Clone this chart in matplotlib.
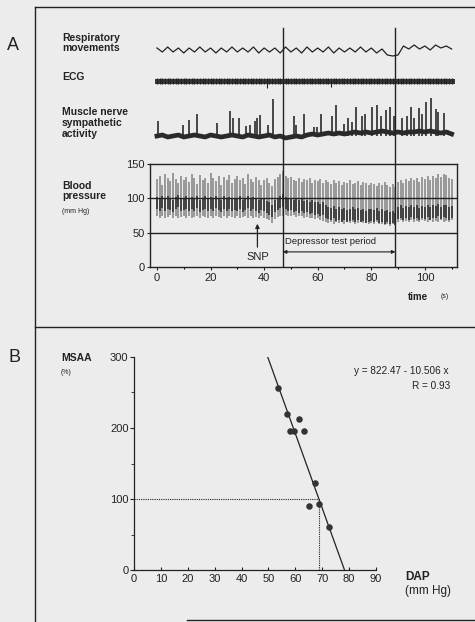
import numpy as np
import matplotlib
matplotlib.use("Agg")
import matplotlib.pyplot as plt
from matplotlib.lines import Line2D

plt.rcParams['font.family'] = ['Liberation Sans', 'DejaVu Sans']

# ---- panel A data ----
# respiratory trace, extrema every 2 s (arbitrary units)
resp_t = np.arange(0, 111, 2)
resp = [2, -2, 3, -2, 2, -3, 2, -2, 3, -2, 2, -3,
        2, -2, 3, -2, 2, -2, 3, -3, 2, -2, 2, -3,
        3, -2, 2, -3, 3, -2, 2, -2, 3, -3, 2, -2,
        2, -2, 3, -2, 2, -3, 1, -5, -6, -5, 4, 1,
        5, 1, 4, 0, 5, 2, 4, 1]

# beat-by-beat blood pressure (mm Hg), one beat per second
beat_t = np.arange(0, 111, 1)
bp_sys = [128, 132, 120, 135, 130, 125, 137, 128, 122, 133,
          127, 131, 124, 136, 129, 121, 134, 127, 130, 123,
          137, 129, 125, 132, 120, 131, 127, 134, 122, 128,
          133, 126, 130, 121, 135, 128, 124, 131, 127, 120,
          126, 130, 123, 118, 128, 131, 136, 140, 133, 129,
          131, 127, 125, 130, 124, 128, 126, 129, 123, 127,
          125, 128, 122, 126, 124, 121, 127, 123, 125, 120,
          124, 122, 126, 121, 123, 125, 120, 124, 122, 119,
          123, 121, 118, 122, 120, 124, 119, 117, 121, 116,
          124, 127, 122, 128, 125, 130, 126, 129, 124, 131,
          128, 132, 127, 133, 130, 135, 131, 136, 134, 130, 128]
bp_dia = [74, 72, 75, 71, 73, 76, 72, 74, 71, 73,
          75, 72, 74, 71, 73, 75, 72, 74, 73, 71,
          74, 72, 75, 73, 71, 74, 72, 75, 73, 72,
          74, 71, 73, 75, 72, 74, 71, 73, 72, 74,
          72, 70, 68, 64, 70, 73, 75, 74, 76, 75,
          74, 76, 73, 75, 74, 72, 73, 71, 72, 70,
          71, 69, 67, 66, 64, 65, 63, 66, 64, 65,
          63, 66, 64, 65, 63, 64, 66, 64, 65, 63,
          64, 62, 65, 63, 62, 61, 63, 60, 62, 61,
          66, 68, 65, 67, 66, 68, 65, 67, 66, 68,
          67, 65, 68, 66, 67, 65, 68, 66, 67, 65, 68]
bp_mean = [96, 94, 98, 93, 97, 95, 92, 96, 99, 94,
           95, 97, 93, 96, 94, 98, 92, 95, 97, 93,
           96, 94, 98, 95, 92, 97, 94, 96, 93, 95,
           94, 97, 92, 95, 98, 93, 96, 94, 91, 95,
           93, 90, 88, 85, 92, 95, 98, 100, 96, 94,
           95, 92, 94, 91, 93, 90, 92, 89, 91, 88,
           89, 86, 88, 84, 82, 80, 83, 79, 81, 78,
           80, 77, 79, 81, 78, 80, 77, 79, 76, 78,
           79, 77, 80, 76, 78, 75, 77, 74, 76, 73,
           82, 84, 80, 83, 81, 85, 82, 84, 80, 83,
           82, 85, 81, 84, 83, 86, 82, 85, 84, 81, 83]

# ECG: deeper deflections
ecg_dip_t = [41, 65]
ecg_dip = [7, 6]

# MSNA baseline every 2 s and burst times / amplitudes
msna_t = np.arange(0, 111, 2)
msna_base = [0, 1, -1, 0, 1, -1, 0, 1, 0, -1, 1, 0,
             -1, 0, 1, 0, -1, 1, 0, -1, 0, 1, -1, 0,
             -2, -1, 0, -1, 1, 2, 1, 2, 3, 2, 3, 2,
             3, 4, 3, 4, 3, 4, 5, 4, 3, 4, 3, 4,
             4, 5, 4, 5, 4, 3, 4, 2]
burst_t = [0.5, 9.9, 12.0, 14.9, 22.3, 27.3, 28.2, 30.7, 33.3, 34.8,
           36.7, 37.5, 38.3, 41.6, 43.3, 51.0, 52.0, 54.7, 58.5, 59.8,
           61.4, 65.4, 66.9, 69.7, 71.2, 72.9, 74.2, 76.7, 77.5, 80.1,
           82.0, 83.5, 85.4, 87.0, 88.5, 91.6, 93.3, 95.0, 96.0, 97.9,
           99.1, 100.4, 102.2, 104.1, 105.0, 107.3]
burst_h = [15, 11, 16, 22, 13, 25, 18, 18, 10, 11,
           15, 18, 21, 11, 37, 20, 11, 22, 9, 9,
           22, 20, 31, 12, 18, 14, 29, 20, 22, 29,
           31, 20, 26, 29, 20, 18, 20, 29, 18, 28,
           22, 34, 38, 27, 24, 23]

marker_t = [47, 89]          # depressor test period limits (s)
snp_t = 37.5                 # SNP injection

# ---- panel B data ----
dap = [53.5, 56.8, 61.4, 58.0, 59.5, 63.2, 67.3, 65.2, 68.8, 72.6]
msaa = [257, 220, 212, 196, 196, 196, 122, 90, 93, 60]
fit_a, fit_b = 822.47, -10.506

W, H = 475, 622
ink = '#222222'
paper = '#ececec'


def box(l, t, r, b):
    return [l / W, 1 - b / H, (r - l) / W, (b - t) / H]


fig = plt.figure(figsize=(W / 100, H / 100), dpi=100, facecolor=paper)

# frame lines of the figure plate
for xs, ys in [((35, 35), (7, 622)), ((35, 475), (7, 7)),
               ((35, 475), (327, 327)), ((187, 475), (620, 620))]:
    fig.add_artist(Line2D([x / W for x in xs], [1 - y / H for y in ys],
                          transform=fig.transFigure, color=ink, lw=1.0))

XLIM = (-2.6, 112)

# ---- traces above blood pressure ----
ax_tr = fig.add_axes(box(150, 25, 457, 164))
ax_tr.set_xlim(*XLIM)
ax_tr.set_ylim(0, 139)
ax_tr.axis('off')
RESP_OFF, ECG_OFF, MSNA_OFF = 114, 83, 28

ax_tr.plot(resp_t, RESP_OFF + np.array(resp), color=ink, lw=0.9)

ax_tr.plot([0, 110], [ECG_OFF, ECG_OFF], color='#3a3a3a', lw=3.6)
ax_tr.vlines(beat_t, ECG_OFF - 3, ECG_OFF + 3, color='#222222', lw=1.0)
ax_tr.vlines(ecg_dip_t, ECG_OFF - np.array(ecg_dip), ECG_OFF, color=ink, lw=0.8)

ax_tr.vlines(burst_t, MSNA_OFF, MSNA_OFF + np.array(burst_h), color='#3a3a3a', lw=1.3)
ax_tr.plot(msna_t, MSNA_OFF + np.array(msna_base), color='#2a2a2a', lw=3.4)

for t in marker_t:
    ax_tr.plot([t, t], [0, 136], color=ink, lw=1.0)

lab = dict(fontsize=7.5, fontweight='bold', color=ink, va='center', ha='left')
fig.text(62 / W, 1 - 43 / H, 'Respiratory\nmovements', linespacing=1.1, **lab)
fig.text(62 / W, 1 - 77 / H, 'ECG', **lab)
fig.text(62 / W, 1 - 123 / H, 'Muscle nerve\nsympathetic\nactivity', linespacing=1.1, **lab)
fig.text(62 / W, 1 - 191 / H, 'Blood\npressure', linespacing=1.1, **lab)
fig.text(62 / W, 1 - 212 / H, '(mm Hg)', fontsize=5, color=ink, va='center')
fig.text(13 / W, 1 - 45 / H, 'A', fontsize=13, color=ink, va='center', ha='center')
fig.text(15 / W, 1 - 358 / H, 'B', fontsize=13, color=ink, va='center', ha='center')

# ---- blood pressure ----
ax_bp = fig.add_axes(box(150, 164, 457, 267))
ax_bp.set_facecolor('none')
ax_bp.set_xlim(*XLIM)
ax_bp.set_ylim(0, 150)
ax_bp.vlines(beat_t, bp_dia, bp_sys, color='#8a8a8a', lw=1.2)
ax_bp.vlines(beat_t, np.array(bp_mean) - 12, np.array(bp_mean) + 6, color='#333333', lw=1.2)
for y in (50, 100):
    ax_bp.axhline(y, color=ink, lw=1.0)
for t in marker_t:
    ax_bp.axvline(t, color=ink, lw=1.0)
for s in ax_bp.spines.values():
    s.set_color(ink)
    s.set_linewidth(1.0)
ax_bp.set_yticks([0, 50, 100, 150])
ax_bp.set_xticks([0, 20, 40, 60, 80, 100])
ax_bp.set_xticks(np.arange(0, 111, 10), minor=True)
ax_bp.tick_params(labelsize=8, colors=ink, length=2, width=0.8, pad=2)
ax_bp.tick_params(which='minor', length=1.5, width=0.8)

ax_bp.annotate('', xy=(marker_t[0], 22), xytext=(marker_t[1], 22),
               arrowprops=dict(arrowstyle='<|-|>', color=ink, lw=0.8,
                               mutation_scale=5, shrinkA=0, shrinkB=0))
ax_bp.text(marker_t[0] + 0.7, 37, 'Depressor test period', fontsize=6.8,
           color=ink, va='center', ha='left')
ax_bp.annotate('', xy=(snp_t, 63), xytext=(snp_t, 29),
               arrowprops=dict(arrowstyle='-|>', color=ink, lw=0.9,
                               mutation_scale=6, shrinkA=0, shrinkB=0))
ax_bp.text(snp_t, 15, 'SNP', fontsize=8, color=ink, va='center', ha='center')

fig.text(418 / W, 1 - 297 / H, 'time', fontsize=7, fontweight='bold',
         color=ink, va='center', ha='center')
fig.text(445 / W, 1 - 297 / H, '(s)', fontsize=5, color=ink, va='center', ha='center')

# ---- panel B scatter ----
ax_b = fig.add_axes(box(134, 357, 376, 570))
ax_b.set_facecolor('none')
ax_b.set_xlim(0, 90)
ax_b.set_ylim(0, 300)
ax_b.spines['top'].set_visible(False)
ax_b.spines['right'].set_visible(False)
for s in ('left', 'bottom'):
    ax_b.spines[s].set_color(ink)
    ax_b.spines[s].set_linewidth(0.9)
ax_b.set_xticks(np.arange(0, 91, 10))
ax_b.set_yticks([0, 100, 200, 300])
ax_b.set_yticks([50, 150, 250], minor=True)
ax_b.tick_params(axis='x', direction='in', length=2.5, labelsize=8, colors=ink, pad=3)
ax_b.tick_params(axis='y', direction='out', length=3, labelsize=8, colors=ink, pad=1)
ax_b.tick_params(axis='y', which='minor', direction='out', length=2, colors=ink)

x0 = (fit_a - 300) / -fit_b
x1 = fit_a / -fit_b
ax_b.plot([x0, x1], [fit_a + fit_b * x0, fit_a + fit_b * x1], color=ink, lw=0.9)
x100 = (fit_a - 100) / -fit_b
ax_b.plot([0, x100], [100, 100], color=ink, lw=0.8, ls=(0, (1, 1)))
ax_b.plot([x100, x100], [0, 100], color=ink, lw=0.8, ls=(0, (1, 1)))
ax_b.scatter(dap, msaa, s=22, color='#333333', zorder=3, linewidths=0)

fig.text(61 / W, 1 - 358 / H, 'MSAA', fontsize=7.5, fontweight='bold', color=ink, va='center')
fig.text(61 / W, 1 - 372 / H, '(%)', fontsize=5, color=ink, va='center')
fig.text(448 / W, 1 - 371 / H, 'y = 822.47 - 10.506 x', fontsize=7.2, color=ink,
         va='center', ha='right')
fig.text(450 / W, 1 - 386 / H, 'R = 0.93', fontsize=7.2, color=ink, va='center', ha='right')
fig.text(405 / W, 1 - 577 / H, 'DAP', fontsize=8.5, fontweight='bold', color=ink, va='center')
fig.text(405 / W, 1 - 591 / H, '(mm Hg)', fontsize=8.5, color=ink, va='center')

fig.savefig('out.png', dpi=100, facecolor=paper)
